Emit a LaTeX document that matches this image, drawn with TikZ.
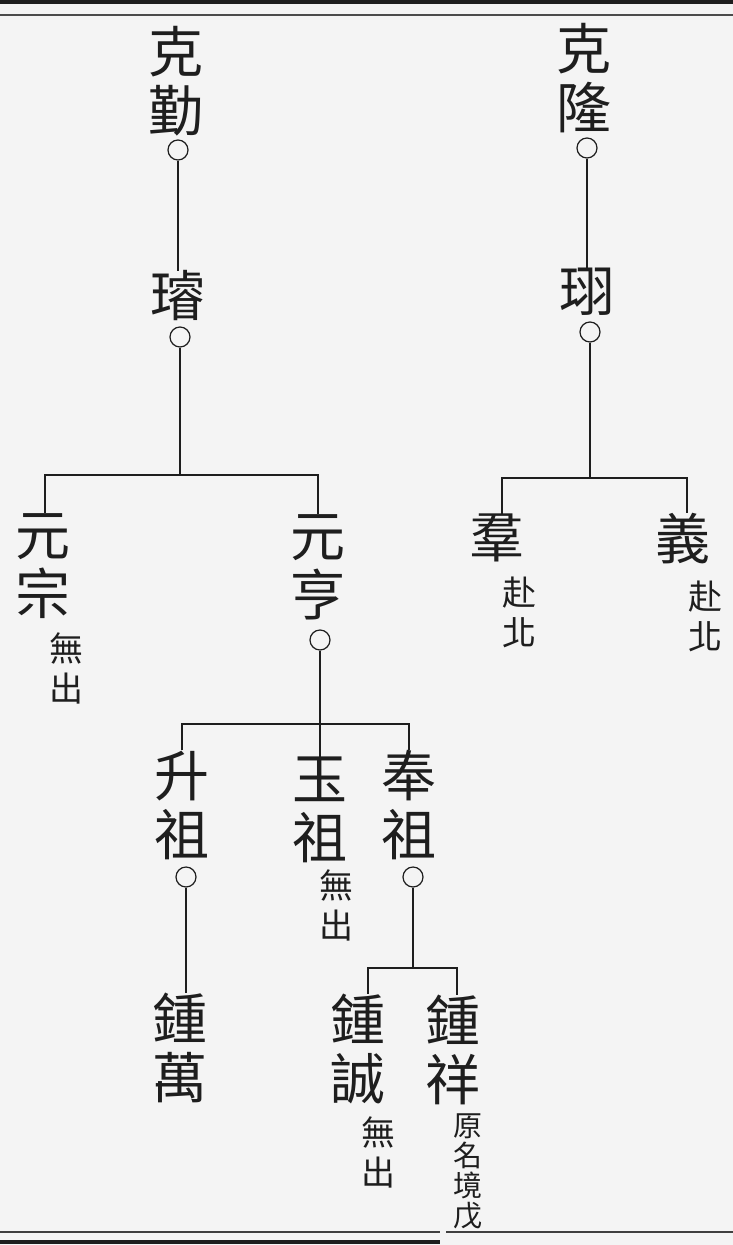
\documentclass[tikz,border=0pt]{standalone}
\usepackage{fontspec}
\newfontfamily\cjk{Noto Sans CJK TC}
\definecolor{ink}{HTML}{1E1E1E}
\definecolor{paper}{HTML}{F4F4F4}
\begin{document}
\begin{tikzpicture}[x=1pt,y=-1pt,
  big/.style={font=\cjk\fontsize{55}{59}\selectfont, align=center, inner sep=0pt, text=ink},
  small/.style={font=\cjk\fontsize{34}{40}\selectfont, align=center, inner sep=0pt, text=ink},
  tiny/.style={font=\cjk\fontsize{29}{30}\selectfont, align=center, inner sep=0pt, text=ink},
  ring/.style={circle, draw=ink, line width=1.2pt, minimum size=20pt, inner sep=0pt},
  link/.style={draw=ink, line width=1.2pt}]
\useasboundingbox (0,0) rectangle (733,1245);
\fill[paper] (0,0) rectangle (733,1245);
% page rules
\fill[ink] (0,0) rectangle (733,4);
\draw[ink!80, line width=1.4pt] (0,15) -- (733,15);
\draw[ink!85, line width=1.4pt] (0,1232) -- (440,1232);
\draw[ink!85, line width=1.4pt] (446,1232) -- (733,1232);
\draw[ink, line width=4pt] (0,1242) -- (440,1242);

% ---------- left family ----------
\node[big] (kq) at (176,81) {克\\勤};
\node[ring] (c1) at (178,150) {};
\node[big] (xuan) at (178,296) {璿};
\node[ring] (c2) at (180,337) {};
\coordinate (j1) at (180,475);

\node[big] (yz) at (43,566) {元\\宗};
\node[small] (wu1) at (66,668) {無\\出};
\node[big] (yh) at (318,567) {元\\亨};
\node[ring] (c3) at (320,640) {};
\coordinate (j2) at (320,724);

\node[big] (shz) at (182,805) {升\\祖};
\node[ring] (c4) at (186,877) {};
\node[big] (zw) at (180,1048) {鍾\\萬};

\node[big] (yuz) at (320,810) {玉\\祖};
\node[small] (wu2) at (336,905) {無\\出};

\node[big] (fz) at (409,805) {奉\\祖};
\node[ring] (c5) at (413,877) {};
\coordinate (j3) at (413,968);

\node[big] (zc) at (358,1049) {鍾\\誠};
\node[small] (wu3) at (378,1152) {無\\出};
\node[big] (zx) at (453,1050) {鍾\\祥};
\node[tiny] (ym) at (468,1172) {原\\名\\境\\戊};

% ---------- right family ----------
\node[big] (kl) at (584,78) {克\\隆};
\node[ring] (c6) at (587,148) {};
\node[big] (xu) at (587,292) {珝};
\node[ring] (c7) at (590,332) {};
\coordinate (j4) at (590,478);

\node[big] (qun) at (497,538) {羣};
\node[small] (fb1) at (519,612) {赴\\北};
\node[big] (yi) at (683,539) {義};
\node[small] (fb2) at (705,616) {赴\\北};

% ---------- connectors ----------
\draw[link] (c1.south) -- (c1.south |- xuan.north);
\draw[link] (c2.south) -- (j1);
\draw[link] ([xshift=2pt]yz.north) |- (j1) -| (yh.north);

\draw[link] (c3.south) -- (c3.south |- yuz.north);
\draw[link] (shz.north) |- (j2) -| (fz.north);
\draw[link] (c4.south) -- (c4.south |- zw.north);

\draw[link] (c5.south) -- (j3);
\draw[link] ([xshift=10pt]zc.north) |- (j3) -| ([xshift=4pt]zx.north);

\draw[link] (c6.south) -- (c6.south |- xu.north);
\draw[link] (c7.south) -- (j4);
\draw[link] ([xshift=5pt]qun.north) |- (j4) -| ([xshift=4pt]yi.north);
\end{tikzpicture}
\end{document}
